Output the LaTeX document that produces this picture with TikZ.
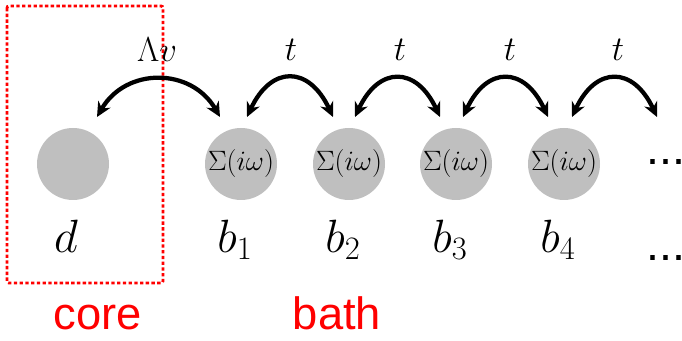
\RequirePackage{fix-cm}
\documentclass[tikz,border=0pt]{standalone}
\usepackage{fontspec}
\newfontfamily\arialfont{Liberation Sans}
\usetikzlibrary{arrows.meta,calc}
\begin{document}
\begin{tikzpicture}[x=0.75pt,y=-0.75pt,
  site/.style={circle,fill=black!25,draw=none,minimum size=54pt,inner sep=0pt,
    font=\fontsize{21}{24}\selectfont},
  lab/.style={anchor=base,font=\fontsize{35}{40}\selectfont},
  hop/.style={font=\fontsize{26}{30}\selectfont},
  hoparrow/.style={line width=3.2pt,{Stealth[length=11pt,width=10.5pt]}-{Stealth[length=11pt,width=10.5pt]}},
  redtext/.style={anchor=base,text=red,font=\arialfont\fontsize{34}{40}\selectfont},
  dotstext/.style={anchor=base west,inner sep=0pt,font=\arialfont\fontsize{35}{40}\selectfont}]
\useasboundingbox (0,0) rectangle (682,341);
% core box
\draw[red,line width=2.2pt,dash pattern=on 2.5pt off 1.8pt,rounded corners=1.5pt] (7,6) rectangle (163,283);
% sites
\node[site] (d) at (73,164) {};
\node[site] (b1) at (241,164) {$\Sigma(i\omega)$};
\node[site] (b2) at (349,164) {$\Sigma(i\omega)$};
\node[site] (b3) at (456,164) {$\Sigma(i\omega)$};
\node[site] (b4) at (564,164) {$\Sigma(i\omega)$};
\coordinate (b5) at (672,164);
% labels
\node[lab] (ld) at (66,253) {$d$};
\node[lab] (lb1) at (235,253) {$b_1$};
\node[lab] (lb2) at (343,253) {$b_2$};
\node[lab] (lb3) at (450,253) {$b_3$};
\node[lab] (lb4) at (558,253) {$b_4$};
% dots
\node[dotstext] (dt) at (646,165) {...};
\node[dotstext] (db) at (646,261) {...};
% arrows
\draw[hoparrow] ([shift={(24,-47)}]d.center) to[out=60,in=120,looseness=1.2] ([shift={(-21,-47)}]b1.center);
\draw[hoparrow] ([shift={(6,-47)}]b1.center) to[out=65,in=115,looseness=1.7] ([shift={(-16,-47)}]b2.center);
\draw[hoparrow] ([shift={(6,-47)}]b2.center) to[out=65,in=115,looseness=1.7] ([shift={(-16,-47)}]b3.center);
\draw[hoparrow] ([shift={(7,-47)}]b3.center) to[out=65,in=115,looseness=1.7] ([shift={(-16,-47)}]b4.center);
\draw[hoparrow] ([shift={(8,-47)}]b4.center) to[out=65,in=115,looseness=1.7] ([shift={(-15,-47)}]b5);
% hopping labels
\node[hop] (lv) at (157,50) {$\Lambda v$};
\node[hop] (t1) at (291,50) {$t$};
\node[hop] (t2) at (400,50) {$t$};
\node[hop] (t3) at (510,50) {$t$};
\node[hop] (t4) at (618,50) {$t$};
% region names
\node[redtext] (core) at (98,330) {core};
\node[redtext] (bath) at (337,330) {bath};
\end{tikzpicture}
\end{document}
